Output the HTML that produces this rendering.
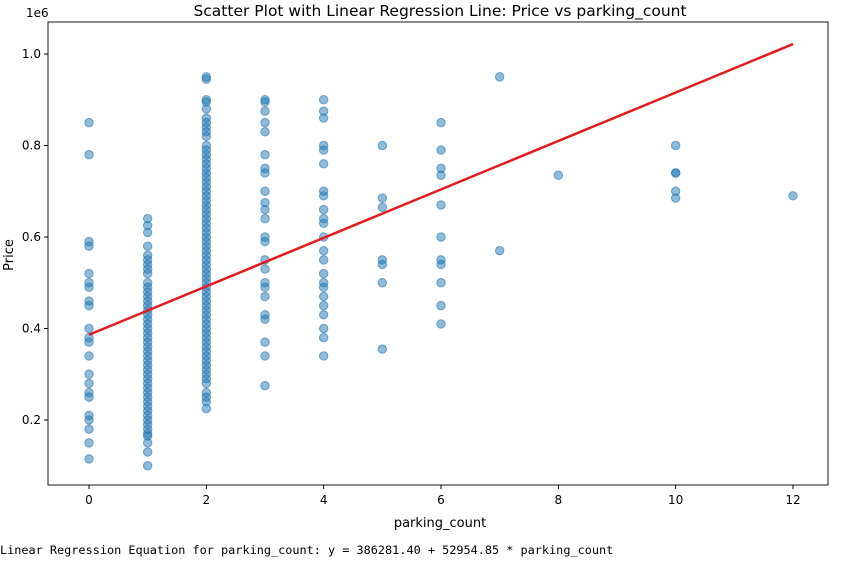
<!DOCTYPE html>
<html><head><meta charset="utf-8"><style>
body{margin:0;background:#fff;font-family:"Liberation Sans","DejaVu Sans",sans-serif;}
svg text{font-family:"DejaVu Sans","Liberation Sans",sans-serif;}
svg text.mono{font-family:"DejaVu Sans Mono","Liberation Mono",monospace;}
</style></head><body>
<svg id="chart" width="853" height="560" xmlns="http://www.w3.org/2000/svg">
<rect width="853" height="560" fill="#fff"/>
<text x="440" y="16" font-size="15.5" text-anchor="middle">Scatter Plot with Linear Regression Line: Price vs parking_count</text>
<g id="points"></g>
<g id="axes"></g>
<rect x="48" y="22" width="780" height="463" fill="none" stroke="#000" stroke-width="0.9"/>
<text x="440" y="527" font-size="13" text-anchor="middle">parking_count</text>
<text transform="translate(13,255) rotate(-90)" font-size="13" text-anchor="middle">Price</text>
<text x="26" y="17" font-size="12">1e6</text>
<text class="mono" x="0" y="554" font-size="11.85">Linear Regression Equation for parking_count: y = 386281.40 + 52954.85 * parking_count</text>
</svg>
<script>
const xTicks=[0,2,4,6,8,10,12];
const yTicks=[0.2,0.4,0.6,0.8,1.0];
const yTickLabels=["0.2","0.4","0.6","0.8","1.0"];
const intercept=386281.40, slope=52954.85;
const xs0=[850,780,590,580,520,500,490,460,450,400,380,370,340,300,280,260,250,210,200,180,150,115];
const xs1=[640,625,610,580,560,550,540,530,520,500,490,480,470,460,450,440,430,420,410,400,390,380,370,360,350,340,330,320,310,300,290,280,270,260,250,240,230,220,210,200,190,180,170,165,150,130,100];
const xs2=[950,945,900,895,880,860,850,840,830,820,800,790,780,770,760,750,740,730,720,710,700,690,680,670,660,650,640,630,620,610,600,590,580,570,560,550,540,530,520,510,500,490,480,470,460,450,440,430,420,410,400,390,380,370,360,350,340,330,320,310,300,290,280,260,250,240,225];
const xs3=[900,895,875,850,830,780,750,740,700,675,660,640,600,590,550,530,500,490,470,430,420,370,340,275];
const xs4=[900,875,860,800,790,760,700,690,660,640,630,600,570,550,520,500,490,470,450,430,400,380,340];
const xs5=[800,685,665,550,540,500,355];
const xs6=[850,790,750,735,670,600,550,540,500,450,410];
const xs7=[950,570];
const xs8=[735];
const xs10=[800,740,740,700,685];
const xs12=[690];
const groups=[[0,xs0],[1,xs1],[2,xs2],[3,xs3],[4,xs4],[5,xs5],[6,xs6],[7,xs7],[8,xs8],[10,xs10],[12,xs12]];
const X=v=>89+v*58.667;
const Y=v=>511.5-v/1e6*457.5;
const NS="http://www.w3.org/2000/svg";
const pts=document.getElementById('points');
groups.forEach(([gx,arr])=>arr.forEach(p=>{
 const c=document.createElementNS(NS,'circle');
 c.setAttribute('cx',X(gx));c.setAttribute('cy',Y(p*1000));c.setAttribute('r',4.2);
 c.setAttribute('fill','#1f77b4');c.setAttribute('fill-opacity','0.5');
 c.setAttribute('stroke','#1f77b4');c.setAttribute('stroke-opacity','0.6');c.setAttribute('stroke-width','1');
 
 
 pts.appendChild(c);
}));
const ln=document.createElementNS(NS,'line');
ln.setAttribute('x1',X(0));ln.setAttribute('y1',Y(intercept));
ln.setAttribute('x2',X(12));ln.setAttribute('y2',Y(intercept+slope*12));
ln.setAttribute('stroke','#e41a1c');ln.setAttribute('stroke-width','2.5');


pts.appendChild(ln);
const ax=document.getElementById('axes');
xTicks.forEach(t=>{
 const l=document.createElementNS(NS,'line');
 l.setAttribute('x1',X(t));l.setAttribute('x2',X(t));l.setAttribute('y1',485);l.setAttribute('y2',489);l.setAttribute('stroke','#000');
 
 
 ax.appendChild(l);
 const tx=document.createElementNS(NS,'text');
 tx.setAttribute('x',X(t));tx.setAttribute('y',504);tx.setAttribute('font-size','12');tx.setAttribute('text-anchor','middle');
 tx.textContent=t;
 
 
 ax.appendChild(tx);
});
yTicks.forEach((t,i)=>{
 const y=Y(t*1e6);
 const l=document.createElementNS(NS,'line');
 l.setAttribute('x1',44);l.setAttribute('x2',48);l.setAttribute('y1',y);l.setAttribute('y2',y);l.setAttribute('stroke','#000');
 
 
 ax.appendChild(l);
 const tx=document.createElementNS(NS,'text');
 tx.setAttribute('x',41);tx.setAttribute('y',y+4);tx.setAttribute('font-size','12');tx.setAttribute('text-anchor','end');
 tx.textContent=yTickLabels[i];
 
 
 ax.appendChild(tx);
});
</script>
</body></html>
